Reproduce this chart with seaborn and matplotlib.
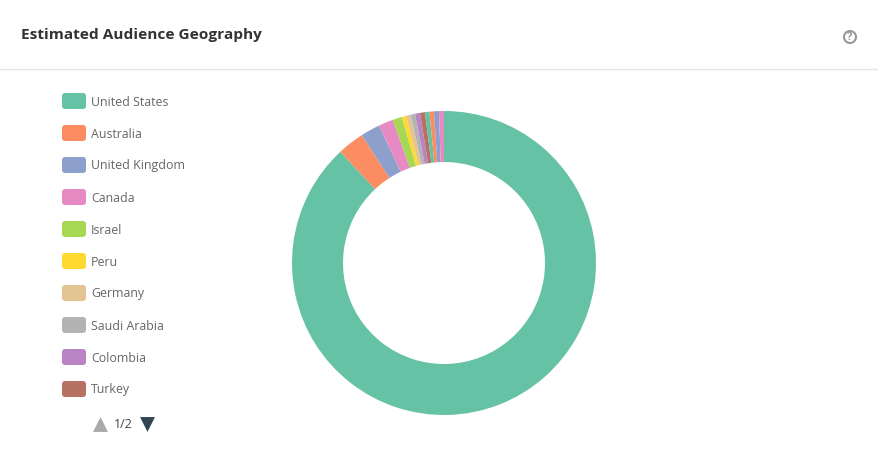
import matplotlib
matplotlib.use("Agg")
import matplotlib.pyplot as plt
from matplotlib.patches import FancyBboxPatch, Circle
import seaborn as sns

# Angles, en degres
countries = ['United States', 'Australia', 'United Kingdom', 'Canada', 'Israel',
             'Peru', 'Germany', 'Saudi Arabia', 'Colombia', 'Turkey',
             'Other 1', 'Other 2', 'Other 3', 'Other 4']
shares = [317.0, 10.3, 7.4, 5.6, 3.6, 1.6, 1.8, 1.7, 1.9, 1.9, 1.7, 1.7, 1.9, 1.9]
colors = ['#66c2a5', '#fc8d62', '#8da0cb', '#e78ac3', '#a6d854',
          '#ffd92f', '#e5c494', '#b3b3b3', '#b884c4', '#b57263']

title = 'Estimated Audience Geography'
page_label = '1/2'
n_legend = 10

sns.set_theme(style="white")
plt.rcParams['font.family'] = ['Open Sans', 'DejaVu Sans']
palette = sns.color_palette(colors)

fig = plt.figure(figsize=(8.79, 4.51), dpi=100, facecolor='white')
ax = fig.add_axes([0, 0, 1, 1])

# Le donut (axe y inverse, donc sens trigo = sens horaire a l'ecran)
slice_colors = [palette[i % len(palette)] for i in range(len(shares))]
ax.pie(shares, colors=slice_colors, center=(444, 263), radius=152, startangle=-90,
       counterclock=True, frame=True, wedgeprops=dict(width=51, edgecolor='none'))
ax.set_xlim(0, 879)
ax.set_ylim(451, 0)
ax.set_aspect('auto')
ax.axis('off')

# En-tete
ax.text(21, 39.5, title, fontsize=11.1, fontweight='bold', color='#333333', va='baseline')
ax.plot([0, 879], [69, 69], color='#e6e6e6', lw=1)
ax.add_patch(Circle((850, 37), 6, fill=False, ec='#999999', lw=1.5))
ax.text(850, 37, '?', fontsize=8, fontweight='bold', color='#999999', ha='center', va='center')

# Legende
for i in range(n_legend):
    y = 101 + i * 32
    ax.add_patch(FancyBboxPatch((62, y - 8), 24, 16, boxstyle='round,pad=0,rounding_size=3',
                                fc=palette[i], ec='none'))
    ax.text(91, y + 4.5, countries[i], fontsize=8.9, color='#666666', va='baseline')

ax.scatter([100], [424], marker='^', s=115, color='#aaaaaa', lw=0)
ax.text(114, 428.5, page_label, fontsize=9, color='#444444', va='baseline')
ax.scatter([147], [424], marker='v', s=115, color='#2f4554', lw=0)

fig.savefig('out.png', dpi=100)
plt.close(fig)
